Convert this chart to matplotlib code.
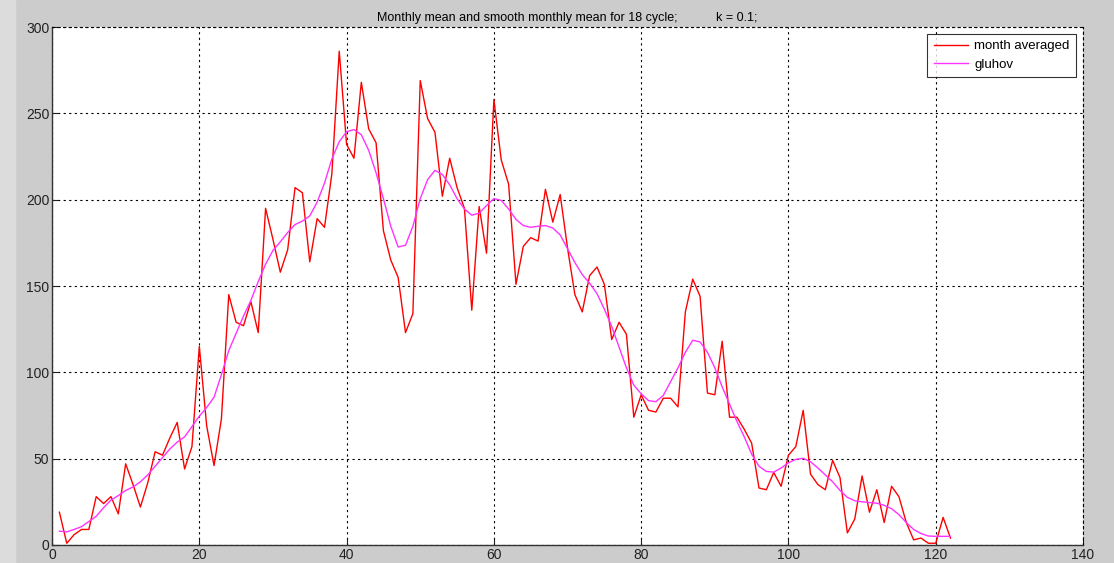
import numpy as np
import matplotlib.pyplot as plt

plt.rcParams['font.family'] = ['Liberation Sans', 'DejaVu Sans']

# monthly means, 18th cycle
month_avg = [19, 1, 6, 9, 9, 28, 24, 28, 18, 47,
             35, 22, 36, 54, 52, 62, 71, 44, 57, 115,
             69, 46, 73, 145, 129, 127, 141, 123, 195, 177,
             158, 171, 207, 204, 164, 189, 184, 215, 286, 232,
             224, 268, 241, 233, 182, 165, 155, 123, 134, 269,
             247, 239, 202, 224, 207, 195, 136, 196, 169, 258,
             223, 209, 151, 173, 178, 176, 206, 187, 203, 172,
             145, 135, 156, 161, 151, 119, 129, 122, 74, 87,
             78, 77, 85, 85, 80, 135, 154, 144, 88, 87,
             118, 74, 74, 67, 59, 33, 32, 42, 34, 52,
             57, 78, 41, 35, 32, 49, 39, 7, 15, 40,
             19, 32, 13, 34, 28, 13, 3, 4, 1, 1,
             16, 4]

# smoothed series (gluhov filter, k = 0.1)
gluhov = [8, 7.6, 9, 10.6, 13.6, 16.6, 21.6, 26, 28.6, 31.6,
          33.6, 36.6, 40.6, 45.6, 50.6, 55.6, 59.6, 62.6, 68.6, 74.6,
          79.6, 85.6, 98.6, 112.6, 122.6, 132.6, 141.6, 152.6, 162.6, 170.6,
          175.6, 181, 185.6, 187.6, 190.6, 198.6, 209.6, 223.6, 233.6, 239.4,
          240.6, 237.6, 228.6, 215.6, 200.6, 184.6, 172.6, 173.6, 184.6, 200.6,
          211.6, 217, 214.6, 208.6, 200.6, 194.6, 191, 192.2, 196.6, 200.6,
          199.6, 194.6, 188.6, 185, 184, 184.6, 185, 183.6, 179.6, 171.6,
          163.6, 156.6, 151.6, 145.6, 136.6, 126.6, 114.6, 102.6, 92.6, 87.6,
          83.6, 83, 86.6, 94.6, 102.6, 111.6, 118.6, 117.6, 111.6, 102.6,
          91.6, 81.6, 71.6, 62.6, 52.6, 45.6, 42.6, 42.2, 44.6, 47.6,
          49.6, 50.2, 48.2, 44.6, 40.6, 36.6, 31.6, 27.6, 25.6, 25,
          24.6, 24.2, 23, 21, 17.6, 13, 9, 6.6, 5.2, 5,
          5, 5]

months = np.arange(1, len(month_avg) + 1)

fig = plt.figure(figsize=(11.14, 5.63), dpi=100, facecolor='#cccccc')
# lighter window border on the left
fig.patches.append(plt.Rectangle((0, 0), 0.0135, 1, transform=fig.transFigure,
                                 color='#dcdcdc', zorder=-1))
ax = fig.add_axes([0.0467, 0.032, 0.9255, 0.920])
ax.set_facecolor('white')

ax.plot(months, month_avg, color='red', lw=1.0, label='month averaged')
ax.plot(months, gluhov, color='#ff33ff', lw=1.0, label='gluhov')

ax.set_xlim(0, 140)
ax.set_ylim(0, 300)
ax.set_xticks(np.arange(0, 141, 20))
ax.set_yticks(np.arange(0, 301, 50))
ax.grid(True, color='black', linestyle=(0, (2, 3)), linewidth=0.8)
ax.tick_params(direction='in', length=4, labelsize=10, pad=2, colors='#222222')

for side in ('top', 'right'):
    ax.spines[side].set_linestyle((0, (2, 3)))
    ax.spines[side].set_linewidth(0.8)
for side in ('left', 'bottom'):
    ax.spines[side].set_linewidth(1.0)
    ax.spines[side].set_color('#333333')

ax.set_title('Monthly mean and smooth monthly mean for 18 cycle;           k = 0.1;',
             fontsize=9, pad=4)

leg = ax.legend(loc='upper right', fontsize=9.5, frameon=True, fancybox=False,
                borderaxespad=0.5, handlelength=2.6, handletextpad=0.5,
                borderpad=0.5, labelspacing=0.45)
leg.get_frame().set_edgecolor('black')
leg.get_frame().set_linewidth(0.8)

fig.savefig('out.png', dpi=100, facecolor=fig.get_facecolor())
